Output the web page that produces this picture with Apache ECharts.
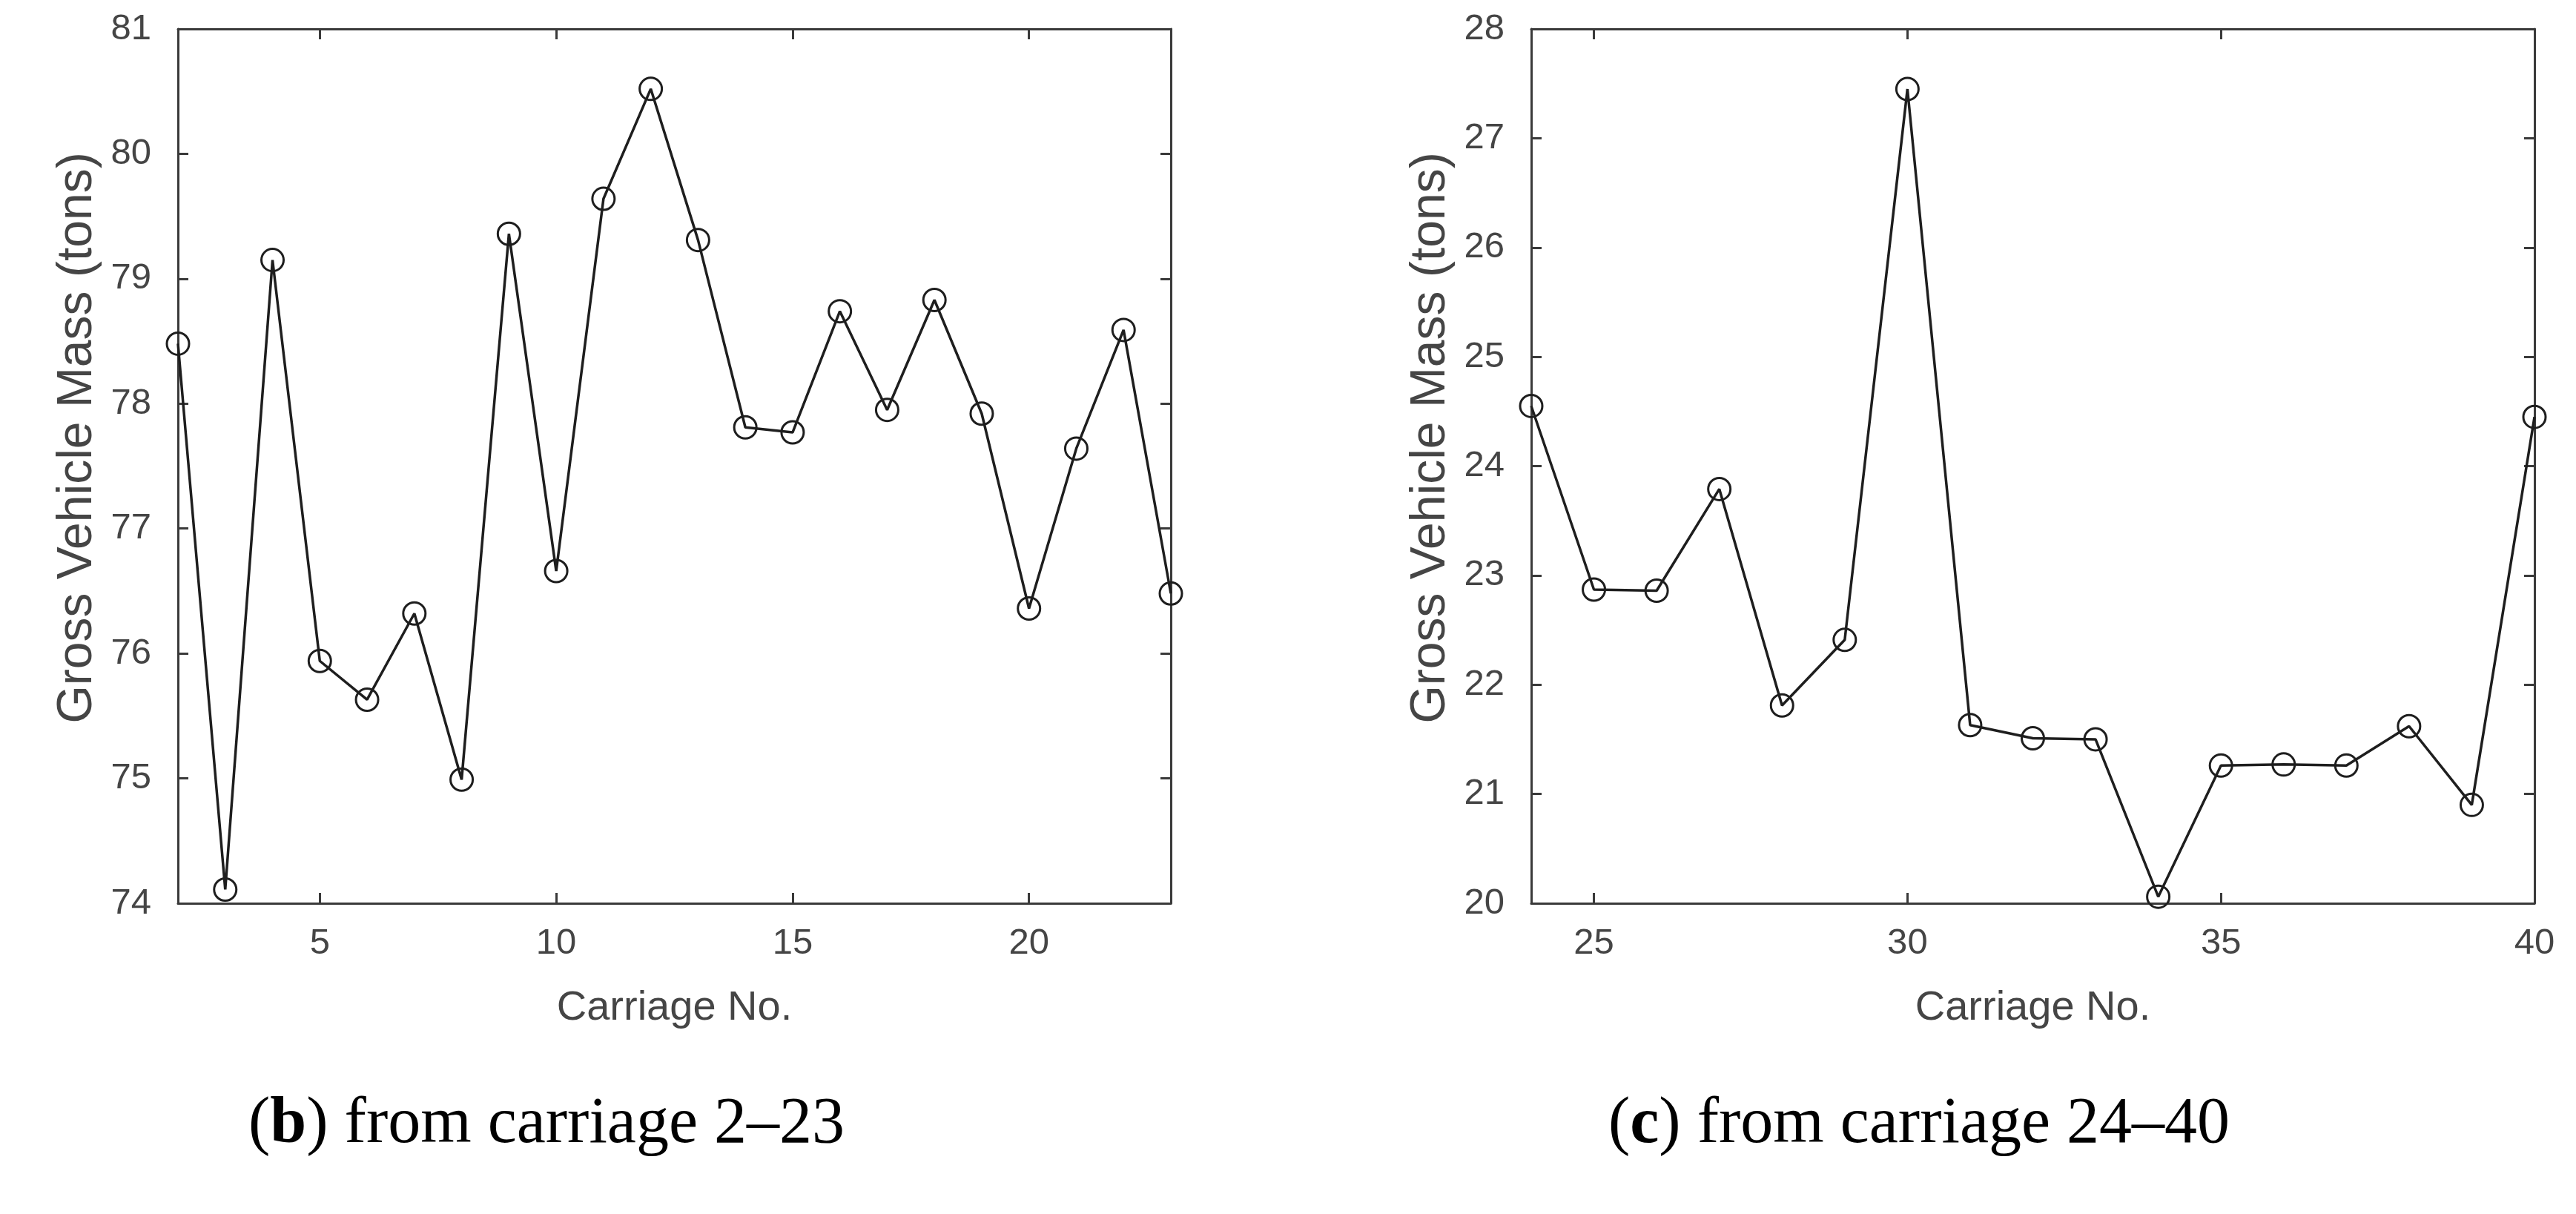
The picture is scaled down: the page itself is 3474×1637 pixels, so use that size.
<!DOCTYPE html>
<html>
<head>
<meta charset="utf-8">
<script src="https://cdn.jsdelivr.net/npm/echarts@6/dist/echarts.min.js"></script>
<style>
html,body{margin:0;padding:0;background:#fff;}
#chart{width:3474px;height:1637px;}
</style>
</head>
<body>
<div id="chart"></div>
<script>
// ---- data ----
const carriageB = [2,3,4,5,6,7,8,9,10,11,12,13,14,15,16,17,18,19,20,21,22,23];
const massB = [78.48,74.11,79.15,75.94,75.63,76.32,74.99,79.36,76.66,79.64,80.52,79.31,77.81,77.77,78.74,77.95,78.83,77.92,76.36,77.64,78.59,76.48];
const carriageC = [24,25,26,27,28,29,30,31,32,33,34,35,36,37,38,39,40];
const massC = [24.55,22.87,22.86,23.79,21.81,22.41,27.45,21.63,21.51,21.50,20.06,21.26,21.27,21.26,21.62,20.90,24.45];
const xTicksB = [5,10,15,20];
const xTicksC = [25,30,35,40];
const yRangeB = [74,81];
const yRangeC = [20,28];
const xLabel = 'Carriage No.';
const yLabel = 'Gross Vehicle Mass (tons)';
const captionB = ['b', ' from carriage 2\u201323'];
const captionC = ['c', ' from carriage 24\u201340'];

const SANS = '"Liberation Sans", Arial, Helvetica, sans-serif';
const SERIF = '"Liberation Serif", "Times New Roman", serif';
const AXC = '#3a3a3a';
const TXT = '#454545';
const INK = '#1e1e1e';

function xAxes(gi, min, max, ticks) {
  const common = {
    gridIndex: gi, type: 'value', min: min, max: max,
    axisLine: {show: true, onZero: false, lineStyle: {color: AXC, width: 3}},
    axisTick: {show: true, inside: true, length: 14, customValues: ticks, lineStyle: {color: AXC, width: 3}},
    splitLine: {show: false}
  };
  return [
    Object.assign({}, common, {
      position: 'bottom',
      axisLabel: {show: true, customValues: ticks, fontSize: 49, color: TXT, margin: 30, fontFamily: SANS},
      name: xLabel, nameLocation: 'middle', nameGap: 114,
      nameTextStyle: {fontSize: 56, color: TXT, fontFamily: SANS}
    }),
    Object.assign({}, common, {position: 'top', axisLabel: {show: false}})
  ];
}
function yAxes(gi, range) {
  const common = {
    gridIndex: gi, type: 'value', min: range[0], max: range[1], interval: 1,
    axisLine: {show: true, onZero: false, lineStyle: {color: AXC, width: 3}},
    axisTick: {show: true, inside: true, length: 14, lineStyle: {color: AXC, width: 3}},
    splitLine: {show: false}
  };
  return [
    Object.assign({}, common, {
      position: 'left',
      axisLabel: {show: true, fontSize: 49, color: TXT, margin: 36, fontFamily: SANS},
      name: yLabel, nameLocation: 'middle', nameGap: 102,
      nameTextStyle: {fontSize: 66, color: TXT, fontFamily: SANS, padding: [0, 0, 0, 76]}
    }),
    Object.assign({}, common, {position: 'right', axisLabel: {show: false}})
  ];
}
function lineSeries(xi, yi, xs, ys) {
  return {
    type: 'line', xAxisIndex: xi, yAxisIndex: yi,
    data: xs.map((x, i) => [x, ys[i]]),
    symbol: 'circle', symbolSize: 30, clip: false,
    itemStyle: {color: 'rgba(0,0,0,0)', borderColor: INK, borderWidth: 3},
    lineStyle: {color: INK, width: 3.5},
    emphasis: {disabled: true}
  };
}
function caption(cx, letter, rest) {
  return {
    type: 'text', x: cx, y: 1517,
    style: {
      text: '(' + '{b|' + letter + '}' + ')' + rest,
      fontFamily: SERIF, fontSize: 88, fill: '#000',
      textAlign: 'center', textVerticalAlign: 'middle', verticalAlign: 'middle',
      rich: {b: {fontFamily: SERIF, fontSize: 88, fontWeight: 'bold', fill: '#000', color: '#000'}}
    }
  };
}

const chart = echarts.init(document.getElementById('chart'), null, {renderer: 'canvas'});
chart.setOption({
  animation: false,
  backgroundColor: '#ffffff',
  grid: [
    {left: 240, top: 39, width: 1339, height: 1179},
    {left: 2065, top: 39, width: 1353, height: 1179}
  ],
  xAxis: xAxes(0, carriageB[0], carriageB[carriageB.length - 1], xTicksB)
    .concat(xAxes(1, carriageC[0], carriageC[carriageC.length - 1], xTicksC)),
  yAxis: yAxes(0, yRangeB).concat(yAxes(1, yRangeC)),
  series: [
    lineSeries(0, 0, carriageB, massB),
    lineSeries(2, 2, carriageC, massC)
  ],
  graphic: [
    caption(737, captionB[0], captionB[1]),
    caption(2588, captionC[0], captionC[1])
  ]
});
</script>
</body>
</html>
